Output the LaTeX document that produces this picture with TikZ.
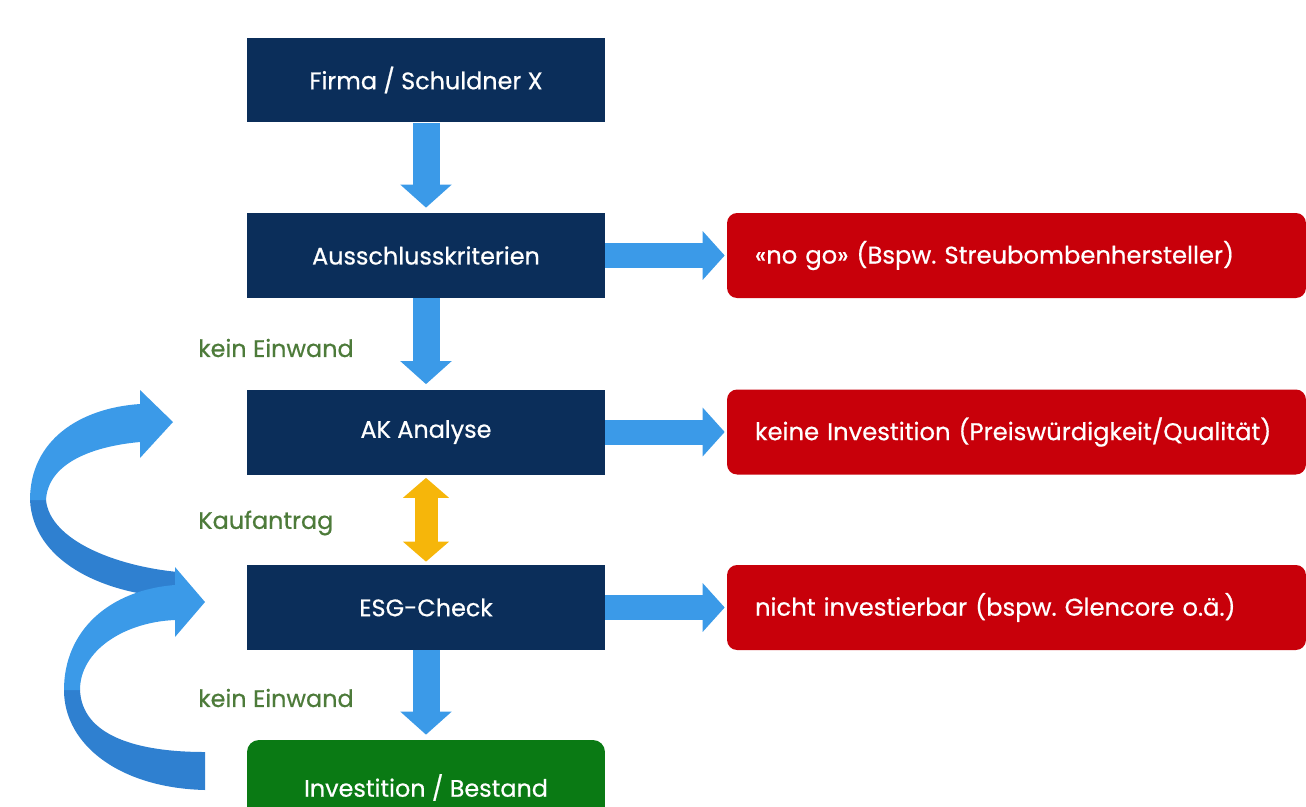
\documentclass[tikz,border=0pt]{standalone}
\usepackage{fontspec}
\setmainfont{Poppins}[FakeBold=0.6]
\frenchspacing
\usetikzlibrary{arrows.meta}

\definecolor{navy}{HTML}{0B2E5A}
\definecolor{flowblue}{HTML}{3B9AE8}
\definecolor{backblue}{HTML}{2F80D0}
\definecolor{alarmred}{HTML}{C8000A}
\definecolor{okgreen}{HTML}{0A7A14}
\definecolor{notegreen}{HTML}{4D7B3A}
\definecolor{askyellow}{HTML}{F6B60A}

\tikzset{
  stepbox/.style={fill=navy, text=white, minimum width=7.16cm, minimum height=1.7cm,
    inner sep=0pt, font=\fontsize{13.6}{16}\selectfont},
  nogobox/.style={fill=alarmred, text=white, rounded corners=0.2cm, minimum height=1.7cm,
    text width=10.46cm, inner xsep=0.56cm, align=left, font=\fontsize{13.8}{16}\selectfont},
  donebox/.style={fill=okgreen, text=white, rounded corners=0.24cm, minimum width=7.16cm,
    minimum height=1.9cm, inner sep=0pt, font=\fontsize{13.6}{16}\selectfont},
  note/.style={anchor=west, text=notegreen, inner sep=0pt, font=\fontsize{13.6}{16}\selectfont},
  downflow/.style={draw=flowblue, line width=0.54cm, -{Triangle[width=1cm,length=0.46cm]},
    shorten >=0.1cm},
  sideflow/.style={draw=flowblue, line width=0.5cm, -{Triangle[width=0.95cm,length=0.44cm]},
    shorten >=0.04cm},
  askflow/.style={draw=askyellow, line width=0.46cm,
    {Triangle[width=0.9cm,length=0.4cm]}-{Triangle[width=0.9cm,length=0.4cm]},
    shorten >=0.06cm, shorten <=0.06cm}
}

\begin{document}
\begin{tikzpicture}[x=0.02cm, y=-0.02cm]
  \useasboundingbox (0,0) rectangle (1306,806);
  \clip (0,0) rectangle (1306,806);

  % main column
  \node[stepbox] (firma) at (426,80) {Firma / Schuldner X};
  \node[stepbox] (aus) at (426,255.5) {Ausschlusskriterien};
  \node[stepbox] (ak) at (426,432) {AK Analyse};
  \node[stepbox] (esg) at (426,607.5) {ESG-Check};
  \node[donebox] (inv) at (426,787.5) {Investition / Bestand};

  % rejections
  \node[nogobox] (nogo) at (1016.5,255.5) {«no go» (Bspw. Streubombenhersteller)};
  \node[nogobox] (noinv) at (1016.5,432) {keine Investition (Preiswürdigkeit/Qualität)};
  \node[nogobox] (noesg) at (1016.5,607.5) {nicht investierbar (bspw. Glencore o.ä.)};

  % labels
  \node[note] (ok1) at (198,348) {kein Einwand};
  \node[note] (buy) at (198,523) {Kaufantrag};
  \node[note] (ok2) at (198,698) {kein Einwand};

  % flow
  \draw[downflow] (firma) -- (aus);
  \draw[downflow] (aus) -- (ak);
  \draw[downflow] (esg) -- (inv);
  \draw[askflow] (ak) -- (esg);
  \draw[sideflow] (aus) -- (nogo);
  \draw[sideflow] (ak) -- (noinv);
  \draw[sideflow] (esg) -- (noesg);

  % loop back (upper turn)
  \fill[backblue] (30,500) .. controls (33,560) and (100,594) .. (178,598)
    -- (178,572) .. controls (115,566) and (50,540) .. (46,500) -- cycle;
  \fill[flowblue] (30,500) .. controls (30,440) and (80,408) .. (140,404)
    -- (140,390) -- (173,422) -- (140,458) -- (140,442)
    .. controls (95,446) and (48,462) .. (46,500) -- cycle;
  % loop back (lower turn)
  \fill[backblue] (205,790) .. controls (120,788) and (64,745) .. (64,690)
    -- (80,690) .. controls (82,735) and (135,752) .. (205,752) -- cycle;
  \fill[flowblue] (64,690) .. controls (64,630) and (110,590) .. (175,585)
    -- (175,567) -- (205,602) -- (175,637) -- (175,620)
    .. controls (125,622) and (80,650) .. (80,690) -- cycle;
\end{tikzpicture}
\end{document}
